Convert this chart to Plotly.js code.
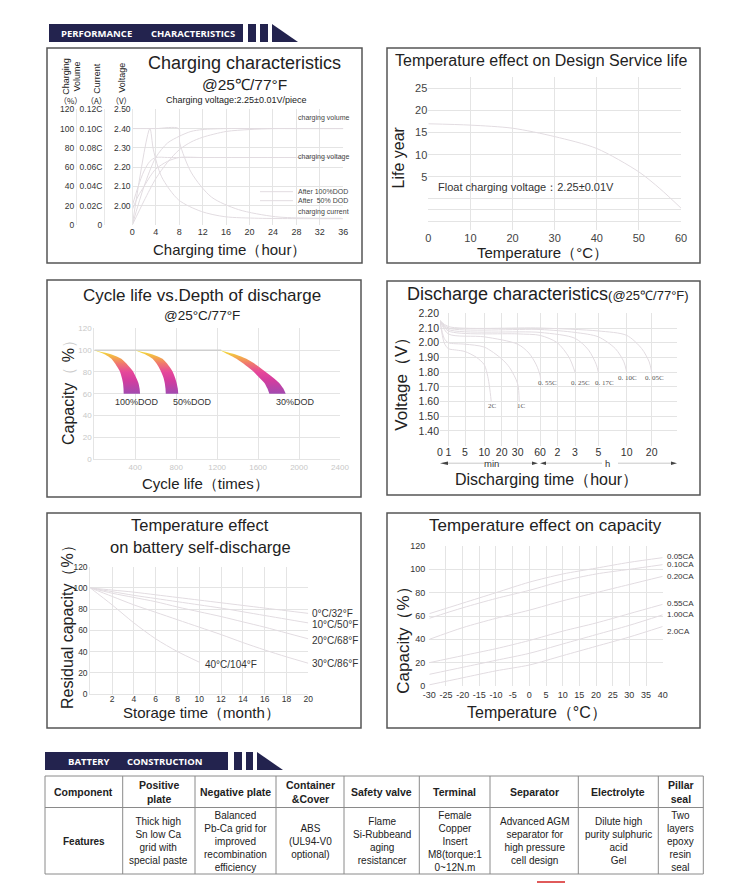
<!DOCTYPE html>
<html><head><meta charset="utf-8">
<script src="https://cdn.plot.ly/plotly-3.0.1.min.js"></script>
<style>html,body{margin:0;padding:0;background:#fff;}#chart{width:749px;height:883px;}</style>
</head><body><div id="chart"></div>
<script>
// ================= DATA =================
// 1. Charging characteristics
const chgTime = [0,2,4,6,8,10,12,16,20,24,28,32,36];
const volAfter50 = [0,40,70,85,92,97,99,100,100,100,100,100,100];
const volAfter100 = [0,25,48,65,78,86,91,97,99,100,100,100,100];
const curTime50 = [0,3,3.6,5,7.9,11.8,15.8,21.5,28,36];
const curAfter50 = [0,0.10,0.078,0.05,0.026,0.014,0.0086,0.007,0.0066,0.0065];
const curTime100 = [0,4,7.9,8.1,10.1,13.5,18.1,24.4,30,35.7];
const curAfter100 = [0.10,0.10,0.10,0.085,0.054,0.029,0.016,0.0086,0.0072,0.007];
const voltTime = [0,1,2,3,4,6,8,12,16,20,24,28,32,36];
const voltAfter50 = [2.00,2.10,2.18,2.23,2.25,2.25,2.25,2.25,2.25,2.25,2.25,2.25,2.25,2.25];
const voltAfter100 = [1.98,2.05,2.10,2.15,2.19,2.23,2.25,2.25,2.25,2.25,2.25,2.25,2.25,2.25];
const chgTimeTicks = [0,4,8,12,16,20,24,28,32,36];
const volTicks = [0,20,40,60,80,100,120];
const curTicks = [0,0.02,0.04,0.06,0.08,0.10,0.12];
const curTickText = ['0','0.02C','0.04C','0.06C','0.08C','0.10C','0.12C'];
const voltTicks = [2.00,2.10,2.20,2.30,2.40,2.50];
const chgLabels = ['charging volume','charging voltage','After 100%DOD','After  50% DOD','charging current'];

// 2. Temperature effect on design service life
const svcTemp = [0,10,20,30,40,50,55,60];
const svcLife = [17,16.7,16,14.1,11.4,6.1,2.3,-2.1];
const svcTempTicks = [0,10,20,30,40,50,60];
const svcLifeTicks = [5,10,15,20,25];

// 3. Cycle life vs depth of discharge (capacity %, cycles)
const dodLevels = [100,96,92,86,81,75,70,65,60];
const dod100Outer = [0,170,264,330,376,408,431,442,447];
const dod100Inner = [0,105,167,215,248,268,280,285,287];
const dod50Outer = [400,570,666,725,762,788,804,815,820];
const dod50Inner = [400,500,569,620,649,675,688,695,698];
const dod30Outer = [1230,1380,1485,1590,1662,1745,1806,1845,1870];
const dod30Inner = [1230,1310,1388,1480,1549,1610,1662,1690,1710];
const dodNames = ['100%DOD','50%DOD','30%DOD'];
const cycRef = [0,1240]; const cycRefCap = [100,100];
const cycleTicks = [400,800,1200,1600,2000,2400];
const capTicks = [0,20,40,60,80,100,120];

// 4. Discharge characteristics (time in minutes, voltage V)
const dchTickLabels = ['0','1','5','10','20','30','60','2','3','5','10','20'];
const dchTickMin = [0,1,5,10,20,30,60,120,180,300,600,1200];
const dchVoltTicks = [1.40,1.50,1.60,1.70,1.80,1.90,2.00,2.10,2.20];
const d2C_t = [0,0.5,1,3,5,8,10,12,13,14];
const d2C_v = [2.15,2.00,1.96,1.95,1.94,1.90,1.85,1.77,1.70,1.60];
const d1C_t = [0,0.5,1,5,10,20,25,30,32];
const d1C_v = [2.15,2.03,2.00,1.99,1.97,1.89,1.83,1.72,1.60];
const d055_t = [0,1,10,30,45,55,60,62];
const d055_v = [2.15,2.06,2.04,1.99,1.93,1.85,1.78,1.75];
const d025_t = [0,1,30,60,120,160,180];
const d025_v = [2.15,2.08,2.06,2.05,2.00,1.90,1.80];
const d017_t = [0,1,60,180,250,290,300];
const d017_v = [2.15,2.09,2.07,2.03,1.95,1.85,1.80];
const d010_t = [0,1,60,180,300,480,570,600];
const d010_v = [2.15,2.10,2.09,2.07,2.04,1.96,1.87,1.80];
const d005_t = [0,1,60,300,600,960,1140,1200];
const d005_v = [2.15,2.11,2.10,2.08,2.05,1.96,1.87,1.80];
const dchNames = ['2C','1C','0. 55C','0. 25C','0. 17C','0. 10C','0. 05C'];

// 5. Self-discharge (months, residual %)
const stMonths = [0,2,4,6,8,10,12,14,16,18,20];
const sd0 = [100,98,96,93.5,91,88.5,86,83.5,81,78.5,76];
const sd10 = [100,96.5,93,90,87,84,81,77.5,74,70.5,67];
const sd20 = [100,95,91,87,82,77.5,73,68,63,57.5,52];
const sd30 = [100,92,84,77,70,63,56,48.5,41.5,35,29];
const sd40Months = [0,2,4,6,8,10];
const sd40 = [100,84,67,52,40,30];
const sdNames = ['0°C/32°F','10°C/50°F','20°C/68°F','30°C/86°F','40°C/104°F'];
const stTicks = [2,4,6,8,10,12,14,16,18,20];
const resTicks = [0,20,40,60,80,100,120];

// 6. Temperature effect on capacity
const tcTemp = [-30,-20,-10,0,10,20,30,40];
const tc005 = [62,71,80,89,96,101,106,110];
const tc010 = [58,67,75,82,90,96,100,104];
const tc020 = [40,50,58,65,73,80,87,94];
const tc055 = [20,26,32,39,47,54,62,70];
const tc100 = [10,16,22,28,36,44,52,61];
const tc200 = [1,7,13,18,26,34,42,51];
const tcNames = ['0.05CA','0.10CA','0.20CA','0.55CA','1.00CA','2.0CA'];
const tcTempTicks = [-30,-25,-20,-15,-10,-5,0,5,10,15,20,25,30,35,40];
const tcCapTicks = [0,20,40,60,80,100,120];

// Construction table
const tblHeaders = ['Component','Positive<br>plate','Negative plate','Container<br>&amp;Cover','Safety valve','Terminal','Separator','Electrolyte','Pillar<br>seal'];
const tblFeatures = ['Features','Thick high<br>Sn low Ca<br>grid with<br>special paste','Balanced<br>Pb-Ca grid for<br>improved<br>recombination<br>efficiency','ABS<br>(UL94-V0<br>optional)','Flame<br>Si-Rubbeand<br>aging<br>resistancer','Female<br>Copper<br>Insert<br>M8(torque:1<br>0~12N.m','Advanced AGM<br>separator for<br>high pressure<br>cell design','Dilute high<br>purity sulphuric<br>acid<br>Gel','Two<br>layers<br>epoxy<br>resin<br>seal'];

// ================= LAYOUT HELPERS =================
const W=749,H=883;
const X=v=>v/W, Y=v=>1-v/H;
const FONT='Liberation Sans, Arial, Helvetica, sans-serif';
const GRID='#e4e4e4', CURVE='#e2dce1', NAVY='#23234e', BORDER='#555';

// Discharge axis: piecewise scale between tick slots
const dchTickPos=[0,8.3,25,44.3,61.7,77.7,100,117.3,135,158.3,186.7,211.7];
function dchX(m){for(let i=1;i<dchTickMin.length;i++){if(m<=dchTickMin[i]){const a=dchTickMin[i-1],b=dchTickMin[i];return dchTickPos[i-1]+(m-a)/(b-a)*(dchTickPos[i]-dchTickPos[i-1]);}}return dchTickPos[dchTickPos.length-1];}

function line(x,y,xa,ya,o={}){return {type:'scatter',mode:'lines',x,y,xaxis:xa,yaxis:ya,line:{color:o.color||CURVE,width:o.width||1,shape:'spline',smoothing:0.8},hoverinfo:'skip',fill:o.fill||'none',fillgradient:o.fg};}
function T(text,x,y,size,o={}){return {xref:'paper',yref:'paper',x:X(x),y:Y(y),text,showarrow:false,xanchor:o.anchor||'center',yanchor:'middle',textangle:o.angle||0,align:'center',font:{family:o.family||FONT,size,color:o.color||'#222',weight:o.weight||'normal'}};}
function R(x0,y0,x1,y1,o={}){return {type:'rect',xref:'paper',yref:'paper',x0:X(x0),x1:X(x1),y0:Y(y0),y1:Y(y1),line:{color:o.lc||'rgba(0,0,0,0)',width:o.lw||0},fillcolor:o.fill||'rgba(0,0,0,0)',layer:'above'};}
function L(x0,y0,x1,y1,color,width){return {type:'line',xref:'paper',yref:'paper',x0:X(x0),x1:X(x1),y0:Y(y0),y1:Y(y1),line:{color,width},layer:'above'};}
function P(pts,fill){return {type:'path',xref:'paper',yref:'paper',path:'M'+pts.map(p=>X(p[0])+','+Y(p[1])).join('L')+'Z',fillcolor:fill,line:{width:0},layer:'above'};}

// ================= TRACES =================
const traces=[];
// chart 1
traces.push(line(chgTime,volAfter50,'x','y'));
traces.push(line(chgTime,volAfter100,'x','y'));
traces.push(line(curTime50,curAfter50,'x','y2'));
traces.push(line(curTime100,curAfter100,'x','y2'));
traces.push(line(voltTime,voltAfter50,'x','y3'));
traces.push(line(voltTime,voltAfter100,'x','y3'));
// chart 2
traces.push(line(svcTemp,svcLife,'x2','y4'));
// chart 3
const grad={type:'vertical',start:60,stop:100,colorscale:[[0,'#a24bb0'],[0.3,'#d23d9f'],[0.5,'#e6489a'],[0.7,'#f07a6c'],[0.85,'#f3b048'],[1,'#f2e63a']]};
traces.push(line(cycRef,cycRefCap,'x3','y5',{color:'#cfcfcf',width:1.5}));
[[dod100Inner,dod100Outer],[dod50Inner,dod50Outer],[dod30Inner,dod30Outer]].forEach(([inn,out])=>{
  traces.push(line(inn,dodLevels,'x3','y5',{width:0.1,color:'rgba(0,0,0,0)'}));
  traces.push(line(out,dodLevels,'x3','y5',{width:0.1,color:'rgba(0,0,0,0)',fill:'tonexty',fg:grad}));
});
// chart 4
[[d2C_t,d2C_v],[d1C_t,d1C_v],[d055_t,d055_v],[d025_t,d025_v],[d017_t,d017_v],[d010_t,d010_v],[d005_t,d005_v]].forEach(([t,v])=>{
  traces.push(line(t.map(dchX),v,'x4','y6'));
});
// chart 5
[sd0,sd10,sd20,sd30].forEach(s=>traces.push(line(stMonths,s,'x5','y7')));
traces.push(line(sd40Months,sd40,'x5','y7'));
// chart 6
[tc005,tc010,tc020,tc055,tc100,tc200].forEach(s=>traces.push(line(tcTemp,s,'x6','y8')));

// ================= AXES =================
const base={showgrid:true,gridcolor:GRID,gridwidth:1,zeroline:false,showline:false,ticks:'',fixedrange:true,tickfont:{family:FONT,size:10,color:'#333'}};
function ax(o){return Object.assign({},base,o,{tickfont:Object.assign({},base.tickfont,o.tickfont||{})});}

const layout={
  width:W,height:H,margin:{l:0,r:0,t:0,b:0},paper_bgcolor:'#fff',plot_bgcolor:'rgba(0,0,0,0)',showlegend:false,hovermode:false,
  font:{family:FONT,color:'#222'},
  // chart 1
  xaxis:ax({domain:[X(132.3),X(343.3)],range:[0,36],anchor:'y',tickvals:chgTimeTicks,tickfont:{size:9}}),
  yaxis:ax({domain:[Y(225),Y(109.3)],range:[0,120],anchor:'free',position:X(76),tickvals:volTicks,showline:true,linecolor:'#e8e8e8',tickfont:{size:8.5}}),
  yaxis2:ax({overlaying:'y',anchor:'free',position:X(104),range:[0,0.12],tickvals:curTicks,ticktext:curTickText,showgrid:false,showline:true,linecolor:'#e8e8e8',tickfont:{size:8.5}}),
  yaxis3:ax({overlaying:'y',anchor:'free',position:X(132.3),range:[1.9,2.5],tickvals:voltTicks,ticktext:voltTicks.map(v=>v.toFixed(2)),showgrid:false,showline:true,linecolor:'#e8e8e8',tickfont:{size:8.5}}),
  // chart 2
  xaxis2:ax({domain:[X(428.3),X(681)],range:[0,60],anchor:'y4',tickvals:svcTempTicks,tickfont:{size:11,color:'#444'}}),
  yaxis4:ax({domain:[Y(230),Y(77)],range:[-7.06,27.6],anchor:'x2',tickvals:[-5.2,-2.5,0,...svcLifeTicks,27.5],ticktext:['','','',...svcLifeTicks.map(String),''],tickfont:{size:11,color:'#444'}}),
  // chart 3
  xaxis3:ax({domain:[X(94.3),X(340)],range:[0,2400],anchor:'y5',tickvals:cycleTicks,tickfont:{size:8,color:'#c8c8c8'},showline:true,linecolor:GRID}),
  yaxis5:ax({domain:[Y(459.3),Y(328.3)],range:[0,120],anchor:'x3',tickvals:capTicks,tickfont:{size:8,color:'#c8c8c8'},showline:true,linecolor:GRID}),
  // chart 4
  xaxis4:ax({domain:[X(440),X(676.7)],range:[0,236.7],anchor:'y6',tickvals:[...dchTickPos,236.7],ticktext:[...dchTickLabels,''],tickfont:{size:10.5},ticklabelstandoff:-1}),
  yaxis6:ax({domain:[Y(445.7),Y(313.3)],range:[1.3,2.2],anchor:'x4',tickvals:[1.3,...dchVoltTicks],ticktext:['',...dchVoltTicks.map(v=>v.toFixed(2))],tickfont:{size:10.5}}),
  // chart 5
  xaxis5:ax({domain:[X(90.3),X(308.3)],range:[0,20],anchor:'y7',tickvals:stTicks,tickfont:{size:8.5},ticklabelstandoff:-3,showline:true,linecolor:GRID}),
  yaxis7:ax({domain:[Y(694),Y(566.7)],range:[0,120],anchor:'x5',tickvals:resTicks,tickfont:{size:8.5},showline:true,linecolor:GRID}),
  // chart 6
  xaxis6:ax({domain:[X(429.3),X(662.7)],range:[-30,40],anchor:'y8',tickvals:tcTempTicks,ticktext:tcTempTicks.map(String),tickfont:{size:9},ticklabelstandoff:2}),
  yaxis8:ax({domain:[Y(686),Y(546)],range:[0,120],anchor:'x6',tickvals:tcCapTicks,tickfont:{size:9},ticklabelstandoff:3}),
  shapes:[],annotations:[]
};
const S=layout.shapes, A=layout.annotations;

// ================= FRAMES & BANNERS =================
[[47,48,362,263],[387,48,700,263],[47,280,361,497],[387,281,700,495],[47,513,361,728],[387,513,700,728]].forEach(b=>S.push(R(b[0],b[1],b[2],b[3],{lc:BORDER,lw:1.5})));
function banner(x0,x1,y0,y1,bars,tri){S.push(R(x0,y0,x1,y1,{fill:NAVY}));bars.forEach(b=>S.push(R(b[0],y0,b[1],y1,{fill:NAVY})));S.push(P([[tri[0],y0],[tri[1],y1],[tri[0],y1]],NAVY));}
banner(49,243,24,42,[[248,256],[260,268]],[272,298]);
A.push(T('PERFORMANCE',59,33.2,9.5,{anchor:'left',color:'#fff',family:'Open Sans, sans-serif',weight:'bold'}));
A.push(T('CHARACTERISTICS',149,33.2,9.5,{anchor:'left',color:'#fff',family:'Open Sans, sans-serif',weight:'bold'}));
banner(45,228,752,770,[[234,242],[246,253]],[257,283]);
A.push(T('BATTERY',66,761.2,9.5,{anchor:'left',color:'#fff',family:'Open Sans, sans-serif',weight:'bold'}));
A.push(T('CONSTRUCTION',125,761.2,9.5,{anchor:'left',color:'#fff',family:'Open Sans, sans-serif',weight:'bold'}));

// ================= CHART 1 TEXT =================
A.push(T('Charging characteristics',245,63.3,18));
A.push(T('@25℃/77°F',245,84.5,15.5));
A.push(T('Charging voltage:2.25±0.01V/piece',236.7,100,9));
A.push(T('Charging<br>Volume',71.7,76,9,{angle:-90}));
A.push(T('Current',96.7,78,9,{angle:-90}));
A.push(T('Voltage',121.7,78,9,{angle:-90}));
A.push(T('（%）',70.7,100,8,{family:'Noto Sans CJK SC'}));
A.push(T('（A）',96.7,100,8,{family:'Noto Sans CJK SC'}));
A.push(T('（V）',121.7,100,8,{family:'Noto Sans CJK SC'}));
[118.3,156.7,191.7,201,211.7].forEach((yy,i)=>A.push(T(chgLabels[i],296,yy,7,{anchor:'left',color:'#444'})));
S.push(L(260,191.7,293,191.7,CURVE,1));S.push(L(260,200.7,293,200.7,CURVE,1));
A.push(T('Charging time（hour）',229.3,249.5,15));

// ================= CHART 2 TEXT =================
A.push(T('Temperature effect on Design Service life',541,60.7,16));
A.push(T('Float charging voltage：2.25±0.01V',435.7,186.7,11,{anchor:'left',color:'#333'}));
A.push(T('Life year',398.5,158,16,{angle:-90}));
A.push(T('Temperature（°C）',542,252,15));

// ================= CHART 3 TEXT =================
A.push(T('Cycle life vs.Depth of discharge',202,295,17));
A.push(T('@25°C/77°F',202,315,13.5));
[[136.7,dodNames[0]],[192.5,dodNames[1]],[295.8,dodNames[2]]].forEach(([xx,t])=>A.push(T(t,xx,401.7,9,{color:'#333'})));
A.push(T('Capacity<span style="color:#ccc">（</span> %<span style="color:#ccc">）</span>',68,389,16,{angle:-90}));
A.push(T('Cycle life（times）',205,483,15));

// ================= CHART 4 TEXT =================
A.push(T('Discharge characteristics<span style="font-size:13px">(@25℃/77°F)</span>',548,294,18));
A.push(T('Voltage（V）',401.7,380,17,{angle:-90}));
A.push(T('Discharging time（hour）',546.7,480,16));
A.push(T('min',491.5,463.5,9.5,{color:'#333'}));
A.push(T('h',607.7,463.5,9.5,{color:'#333'}));
S.push(L(448,463.2,484,463.2,'#c8c8c8',1));S.push(L(499,463.2,533,463.2,'#c8c8c8',1));
S.push(L(546,463.2,602,463.2,'#c8c8c8',1));S.push(L(618,463.2,671,463.2,'#c8c8c8',1));
S.push(P([[440,463.2],[448,461.4],[448,465]],'#444'));
S.push(P([[538,463.2],[532,461.4],[532,465]],'#444'));
S.push(P([[540,463.2],[546,461.4],[546,465]],'#444'));
S.push(P([[677,463.2],[671,461.4],[671,465]],'#444'));
[[492.3,406],[521,406],[547,383],[580,383],[604,383],[627.3,377.7],[654.3,377.7]].forEach(([xx,yy],i)=>A.push(T(dchNames[i],xx,yy,7,{family:'Liberation Serif, DejaVu Serif, serif',color:'#555'})));

// ================= CHART 5 TEXT =================
A.push(T('Temperature effect',200,525,16.5));
A.push(T('on battery self-discharge',200,546.7,16.5));
A.push(T('Residual capacity（%）',67,623,16,{angle:-90}));
A.push(T('Storage time（month）',201.7,712,15));
[[310,613.3],[310,624],[310,640.7],[310,663.3],[203.3,664]].forEach(([xx,yy],i)=>A.push(T(sdNames[i],xx,yy,10,{anchor:'left',color:'#333'})));

// ================= CHART 6 TEXT =================
A.push(T('Temperature effect on capacity',545,525,17));
A.push(T('Capacity（%）',404,636.7,17,{angle:-90}));
A.push(T('Temperature（°C）',536.7,712.7,16));
[556,564.5,576.7,603.3,614,631.7].forEach((yy,i)=>A.push(T(tcNames[i],665,yy,8,{anchor:'left',color:'#333'})));

// ================= TABLE =================
const colB=[45,122.7,195,276,344,419.3,490,578.3,658.3,703.3];
const rowB=[776,807.5,874];
S.push(R(colB[0],rowB[0],colB[colB.length-1],rowB[2],{lc:'#8a8a8a',lw:1}));
S.push(L(colB[0],rowB[1],colB[colB.length-1],rowB[1],'#8a8a8a',1));
colB.slice(1,-1).forEach(c=>S.push(L(c,rowB[0],c,rowB[2],'#8a8a8a',1)));
tblHeaders.forEach((t,i)=>A.push(T(t,(colB[i]+colB[i+1])/2,(rowB[0]+rowB[1])/2,10.5,{weight:'bold',color:'#222'})));
tblFeatures.forEach((t,i)=>A.push(T(t,(colB[i]+colB[i+1])/2,(rowB[1]+rowB[2])/2+0.5,10,{weight:i===0?'bold':'normal',color:'#222'})));
S.push(R(537,881,565,883,{fill:'#e05a5a'}));

Plotly.newPlot('chart',traces,layout,{staticPlot:true,displayModeBar:false});
</script></body></html>
